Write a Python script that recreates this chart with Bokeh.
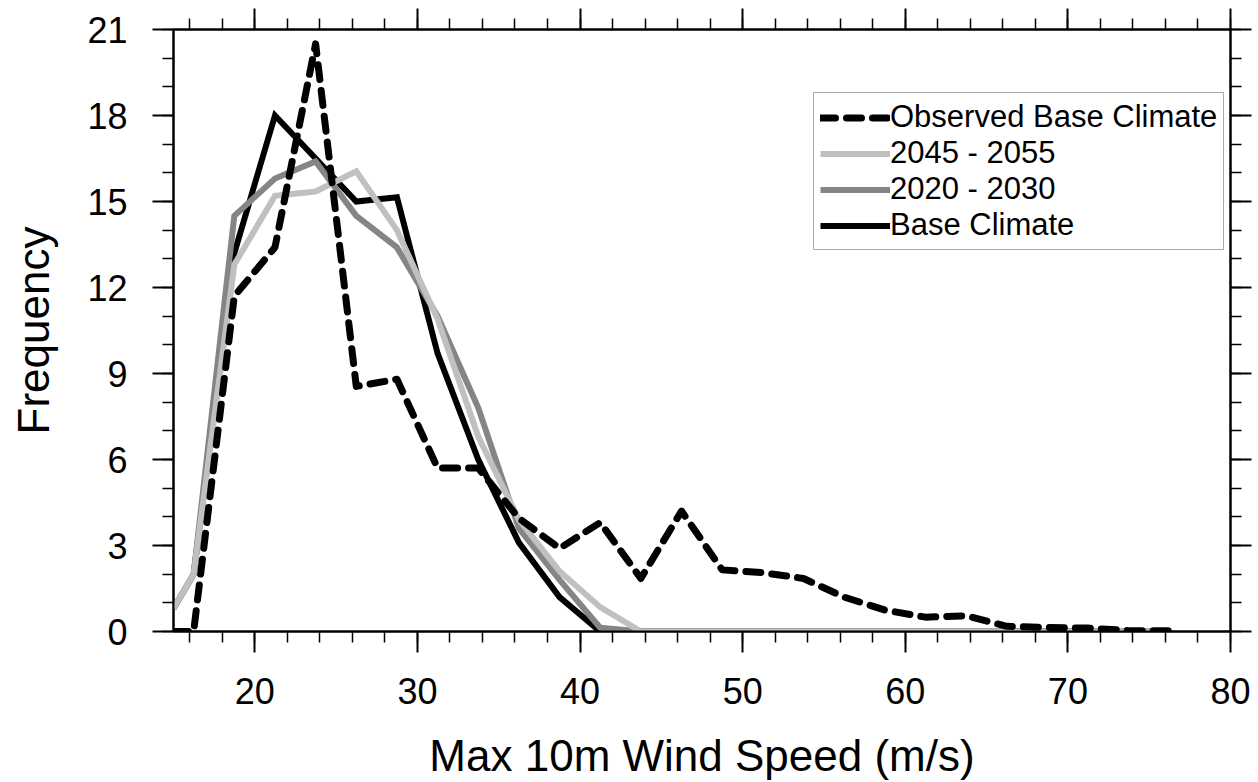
from bokeh.plotting import figure
from bokeh.models import (Range1d, LinearAxis, SingleIntervalTicker, Legend, LegendItem,
                          ColumnDataSource, CustomLabelingPolicy)
from bokeh.embed import file_html
from bokeh.resources import INLINE

# ---- data ----
wind_speed = [15.0, 16.24, 18.74, 21.24, 23.74, 26.24, 28.74, 31.24, 33.74, 36.24,
              38.74, 41.24, 43.74, 46.24, 48.74, 51.24, 53.74, 56.24, 58.74, 61.24,
              63.74, 66.24, 68.74, 71.24, 73.74, 76.24]
observed_base = [0.0, 0.0, 11.7, 13.4, 20.5, 8.55, 8.8, 5.7, 5.7, 3.95,
                 2.9, 3.8, 1.85, 4.2, 2.15, 2.05, 1.85, 1.2, 0.75, 0.5,
                 0.55, 0.18, 0.14, 0.12, 0.03, 0.03]
base_climate = [0.8, 2.0, 13.2, 18.0, 16.5, 15.0, 15.15, 9.7, 6.0, 3.1,
                1.2, 0.0, 0.0, 0.0, 0.0, 0.0, 0.0, 0.0, 0.0, 0.0,
                0.0, 0.0, 0.0, 0.0, 0.0, 0.0]
y2020_2030 = [0.8, 2.0, 14.5, 15.8, 16.4, 14.5, 13.4, 11.0, 7.8, 3.6,
              1.8, 0.13, 0.0, 0.0, 0.0, 0.0, 0.0, 0.0, 0.0, 0.0,
              0.0, 0.0, 0.0, 0.0, 0.0, 0.0]
y2045_2055 = [0.8, 2.0, 12.8, 15.2, 15.35, 16.05, 14.0, 10.9, 6.8, 3.9,
              2.1, 0.85, 0.0, 0.0, 0.0, 0.0, 0.0, 0.0, 0.0, 0.0,
              0.0, 0.0, 0.0, 0.0, 0.0, 0.0]
series_names = ["Observed Base Climate", "2045 - 2055", "2020 - 2030", "Base Climate"]
x_title = "Max 10m Wind Speed (m/s)"
y_title = "Frequency"

FONT = "Liberation Sans"

src = ColumnDataSource(dict(x=wind_speed, obs=observed_base, base=base_climate,
                            f2020=y2020_2030, f2045=y2045_2055))

p = figure(width=1258, height=782, output_backend="svg", toolbar_location=None,
           x_range=Range1d(15, 80), y_range=Range1d(0, 21),
           x_axis_type=None, y_axis_type=None,
           min_border_left=173, min_border_right=28, min_border_top=29, min_border_bottom=150)
p.outline_line_color = "black"
p.outline_line_width = 2
p.xgrid.visible = False
p.ygrid.visible = False
p.background_fill_color = "white"
p.border_fill_color = "white"

no_labels = CustomLabelingPolicy(code="return new Set()")


def style_axis(ax, labels=True):
    ax.axis_line_width = 2
    ax.axis_line_color = "black"
    ax.major_tick_out = 21
    ax.major_tick_in = 0
    ax.minor_tick_out = 11
    ax.minor_tick_in = 0
    ax.major_tick_line_width = 2
    ax.minor_tick_line_width = 1.5
    ax.major_tick_line_color = "black"
    ax.minor_tick_line_color = "black"
    ax.major_label_text_font = FONT
    ax.major_label_text_color = "black"
    if labels:
        ax.major_label_text_font_size = "36px"
    else:
        ax.major_label_text_font_size = "1px"
        ax.major_label_policy = no_labels
        ax.major_label_standoff = 0


def xticker():
    return SingleIntervalTicker(interval=10, num_minor_ticks=5)


def yticker():
    return SingleIntervalTicker(interval=3, num_minor_ticks=3)


xb = LinearAxis(ticker=xticker())
style_axis(xb)
xb.major_label_standoff = 25
xb.axis_label = x_title
xb.axis_label_text_font = FONT
xb.axis_label_text_font_size = "44px"
xb.axis_label_text_font_style = "normal"
xb.axis_label_text_color = "black"
xb.axis_label_standoff = 24
p.add_layout(xb, "below")

yl = LinearAxis(ticker=yticker())
style_axis(yl)
yl.major_label_standoff = 25
yl.axis_label = y_title
yl.axis_label_text_font = FONT
yl.axis_label_text_font_size = "44px"
yl.axis_label_text_font_style = "normal"
yl.axis_label_text_color = "black"
yl.axis_label_standoff = 26
p.add_layout(yl, "left")

xt = LinearAxis(ticker=xticker())
style_axis(xt, labels=False)
p.add_layout(xt, "above")

yr = LinearAxis(ticker=yticker())
style_axis(yr, labels=False)
p.add_layout(yr, "right")

r_base = p.line("x", "base", source=src, line_color="black", line_width=6,
                line_join="miter")
r_2020 = p.line("x", "f2020", source=src, line_color="#858585", line_width=6,
                line_join="miter")
r_2045 = p.line("x", "f2045", source=src, line_color="#c0c0c0", line_width=6,
                line_join="miter")
r_obs = p.line("x", "obs", source=src, line_color="black", line_width=7,
               line_dash="15 11", line_cap="round", line_join="round")

legend = Legend(items=[
    LegendItem(label=series_names[0], renderers=[r_obs]),
    LegendItem(label=series_names[1], renderers=[r_2045]),
    LegendItem(label=series_names[2], renderers=[r_2020]),
    LegendItem(label=series_names[3], renderers=[r_base]),
], location=(640, 381))
legend.margin = 0
legend.padding = 6
legend.spacing = 0
legend.glyph_width = 70
legend.glyph_height = 35
legend.label_height = 35
legend.label_standoff = 0
legend.label_text_font = FONT
legend.label_text_font_size = "31px"
legend.label_text_color = "black"
legend.border_line_color = "#555555"
legend.border_line_width = 1.5
legend.background_fill_color = "white"
legend.background_fill_alpha = 1.0
p.add_layout(legend, "center")

open("out.html", "w").write(file_html(p, INLINE))
